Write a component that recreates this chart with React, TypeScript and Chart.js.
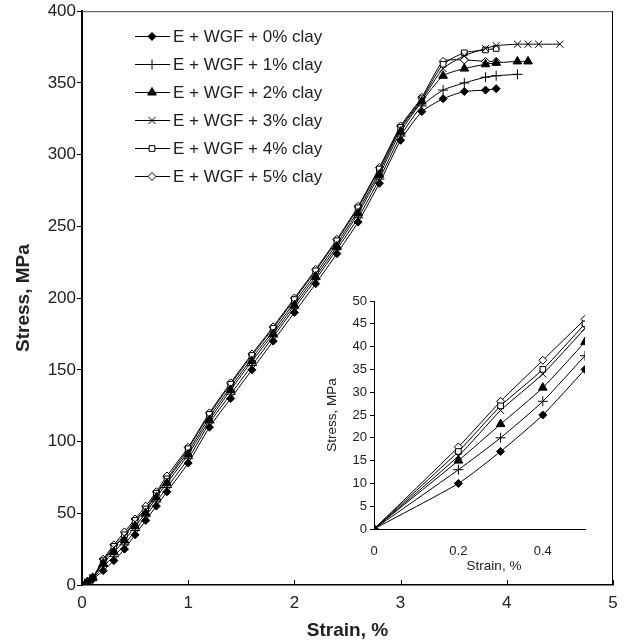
import React, { useEffect, useRef } from "react";
import { Chart, registerables } from "chart.js";
import { drawPoint } from "chart.js/helpers";

Chart.register(...registerables);

// ---------- DATA ----------
const seriesLabels = [
  "E + WGF + 0% clay",
  "E + WGF + 1% clay",
  "E + WGF + 2% clay",
  "E + WGF + 3% clay",
  "E + WGF + 4% clay",
  "E + WGF + 5% clay",
];

const strainMain = [0, 0.05, 0.1, 0.2, 0.3, 0.4, 0.5, 0.6, 0.7, 0.8, 1.0, 1.2, 1.4, 1.6, 1.8, 2.0, 2.2, 2.4, 2.6, 2.8, 3.0, 3.2, 3.4, 3.6, 3.8, 3.9];
const strain0 = strainMain;
const strain1 = [...strainMain, 4.1];
const strain2 = [...strainMain, 4.1, 4.2];
const strain3 = [...strainMain, 4.1, 4.2, 4.3, 4.5];
const strain4 = strainMain;
const strain5 = strainMain;

const stress0 = [0, 2, 4, 10, 17, 25, 35, 45, 55, 65, 85, 110, 130, 150, 170, 190, 210, 231, 253, 280, 310, 330, 339, 344, 345, 346];
const stress1 = [0, 2, 4, 13, 20, 28, 38, 48, 58, 68, 88, 113, 133, 153, 173, 193, 213, 234, 256, 283, 313, 334, 345, 350, 354, 355, 356];
const stress2 = [0, 2, 5, 15, 23, 31, 41, 50, 61, 71, 91, 115, 136, 156, 175, 195, 215, 236, 259, 286, 316, 337, 355, 360, 363, 364, 365, 365];
const stress3 = [0, 2, 5, 16, 26, 34, 44, 52, 63, 73, 93, 117, 138, 158, 177, 197, 217, 238, 261, 288, 318, 338, 360, 369, 374, 376, 377, 377, 377, 377];
const stress4 = [0, 2, 5, 17, 27, 35, 45, 53, 64, 74, 95, 119, 140, 160, 179, 199, 219, 240, 263, 290, 319, 339, 363, 371, 373, 374];
const stress5 = [0, 2, 5, 18, 28, 37, 46, 55, 65, 76, 96, 120, 141, 161, 180, 200, 220, 241, 264, 291, 320, 340, 365, 366, 365, 365];

const strainInset = [0, 0.2, 0.3, 0.4, 0.5];
const inset0 = [0, 10, 17, 25, 35];
const inset1 = [0, 13, 20, 28, 38];
const inset2 = [0, 15, 23, 31, 41];
const inset3 = [0, 16, 26, 34, 44];
const inset4 = [0, 17, 27, 35, 45];
const inset5 = [0, 18, 28, 37, 46];

const mainXTicks = [0, 1, 2, 3, 4, 5];
const mainYTicks = [0, 50, 100, 150, 200, 250, 300, 350, 400];
const insetXTicks = [0, 0.2, 0.4];
const insetYTicks = [0, 5, 10, 15, 20, 25, 30, 35, 40, 45, 50];

const mainXTitle = "Strain, %";
const mainYTitle = "Stress, MPa";
const insetXTitle = "Strain, %";
const insetYTitle = "Stress, MPa";

// ---------- STYLES ----------
const FONT = "'Liberation Sans', Arial, sans-serif";
const TEXT = "#222";
const pointStyles = [
  { pointStyle: "rectRot", radius: 4, fill: "#000" },
  { pointStyle: "cross", radius: 5, fill: "#000" },
  { pointStyle: "triangle", radius: 5, fill: "#000" },
  { pointStyle: "crossRot", radius: 5, fill: "#000" },
  { pointStyle: "rect", radius: 4, fill: "#fff" },
  { pointStyle: "rectRot", radius: 4, fill: "#fff" },
];

const zip = (xs: number[], ys: number[]) => xs.map((x, i) => ({ x, y: ys[i] }));

function makeDatasets(pairs: [number[], number[]][]) {
  return pairs.map(([xs, ys], i) => ({
    label: seriesLabels[i],
    data: zip(xs, ys),
    borderColor: "#000",
    borderWidth: 1,
    backgroundColor: pointStyles[i].fill,
    pointStyle: pointStyles[i].pointStyle as any,
    pointRadius: pointStyles[i].radius,
    pointBorderColor: "#000",
    pointBackgroundColor: pointStyles[i].fill,
    pointBorderWidth: 1,
    tension: 0.2,
    fill: false,
  }));
}

const mainPlugin = {
  id: "mainDecor",
  afterDraw(chart: any) {
    const { ctx, chartArea } = chart;
    const xs = chart.scales.x;
    ctx.save();
    // box top/right
    ctx.strokeStyle = "#444";
    ctx.lineWidth = 1;
    ctx.beginPath();
    ctx.moveTo(chartArea.left, chartArea.top + 0.5);
    ctx.lineTo(chartArea.right - 0.5, chartArea.top + 0.5);
    ctx.stroke();
    ctx.strokeStyle = "#000";
    ctx.beginPath();
    ctx.moveTo(chartArea.right - 0.5, chartArea.top);
    ctx.lineTo(chartArea.right - 0.5, chartArea.bottom);
    ctx.stroke();
    // inward x ticks
    mainXTicks.forEach((v) => {
      const px = Math.round(xs.getPixelForValue(v)) + 0.5;
      ctx.beginPath();
      ctx.moveTo(px, chartArea.bottom);
      ctx.lineTo(px, chartArea.bottom - 5);
      ctx.stroke();
    });
    // legend
    chart.data.datasets.forEach((ds: any, i: number) => {
      const y = 36 + i * 28;
      ctx.strokeStyle = "#000";
      ctx.lineWidth = 1;
      ctx.beginPath();
      ctx.moveTo(135, y + 0.5);
      ctx.lineTo(170, y + 0.5);
      ctx.stroke();
      ctx.fillStyle = pointStyles[i].fill;
      ctx.strokeStyle = "#000";
      drawPoint(ctx, { pointStyle: pointStyles[i].pointStyle, radius: pointStyles[i].radius, rotation: 0, borderWidth: 1 } as any, 152, y + 0.5);
      ctx.fillStyle = TEXT;
      ctx.font = `17px ${FONT}`;
      ctx.textBaseline = "middle";
      ctx.textAlign = "left";
      ctx.fillText(ds.label, 173, y + 1);
    });
    ctx.restore();
  },
};

const insetPlugin = {
  id: "insetDecor",
  afterDraw(chart: any) {
    const { ctx } = chart;
    ctx.save();
    ctx.fillStyle = TEXT;
    ctx.font = `13.5px ${FONT}`;
    ctx.textAlign = "center";
    ctx.textBaseline = "middle";
    ctx.fillText(insetXTitle, 194, 281);
    ctx.restore();
  },
};

export default function App() {
  const mainRef = useRef<HTMLCanvasElement>(null);
  const insetRef = useRef<HTMLCanvasElement>(null);

  useEffect(() => {
    const main = new Chart(mainRef.current!, {
      type: "line",
      data: {
        datasets: makeDatasets([
          [strain0, stress0],
          [strain1, stress1],
          [strain2, stress2],
          [strain3, stress3],
          [strain4, stress4],
          [strain5, stress5],
        ]) as any,
      },
      options: {
        animation: false,
        responsive: false,
        layout: { padding: { top: 10, right: 14, left: 0, bottom: 0 } },
        plugins: { legend: { display: false }, tooltip: { enabled: false } },
        scales: {
          x: {
            type: "linear",
            min: 0,
            max: 5,
            afterBuildTicks: (s: any) => { s.ticks = mainXTicks.map((v) => ({ value: v })); },
            afterFit: (s: any) => { s.height = 57; },
            grid: { display: false, drawTicks: false },
            border: { color: "#000", width: 1.5 },
            ticks: { color: TEXT, font: { family: FONT, size: 17 }, padding: 8 },
            title: { display: true, text: mainXTitle, color: TEXT, font: { family: FONT, size: 19, weight: "bold" }, padding: { top: 0, bottom: 0 } },
          },
          y: {
            type: "linear",
            min: 0,
            max: 400,
            afterBuildTicks: (s: any) => { s.ticks = mainYTicks.map((v) => ({ value: v })); },
            afterFit: (s: any) => { s.width = 82; },
            grid: { drawOnChartArea: false, drawTicks: true, tickLength: 5, color: "#000" },
            border: { color: "#000", width: 2 },
            ticks: { color: TEXT, font: { family: FONT, size: 17 }, padding: 1 },
            title: { display: true, text: mainYTitle, color: TEXT, font: { family: FONT, size: 19, weight: "bold" }, padding: { top: 12, bottom: 0 } },
          },
        },
      },
      plugins: [mainPlugin],
    });

    const inset = new Chart(insetRef.current!, {
      type: "line",
      data: {
        datasets: makeDatasets([
          [strainInset, inset0],
          [strainInset, inset1],
          [strainInset, inset2],
          [strainInset, inset3],
          [strainInset, inset4],
          [strainInset, inset5],
        ]) as any,
      },
      options: {
        animation: false,
        responsive: false,
        layout: { padding: { top: 16, right: 15, left: 0, bottom: 0 } },
        plugins: { legend: { display: false }, tooltip: { enabled: false } },
        scales: {
          x: {
            type: "linear",
            min: 0,
            max: 0.5,
            afterBuildTicks: (s: any) => { s.ticks = insetXTicks.map((v) => ({ value: v })); },
            afterFit: (s: any) => { s.height = 46; },
            grid: { display: false, drawTicks: false },
            border: { color: "#000", width: 1 },
            ticks: { color: TEXT, font: { family: FONT, size: 13 }, padding: 15 },
            title: { display: false },
          },
          y: {
            type: "linear",
            min: 0,
            max: 50,
            afterBuildTicks: (s: any) => { s.ticks = insetYTicks.map((v) => ({ value: v })); },
            afterFit: (s: any) => { s.width = 74; },
            grid: { drawOnChartArea: false, drawTicks: true, tickLength: 4, color: "#000" },
            border: { color: "#000", width: 1 },
            ticks: { color: TEXT, font: { family: FONT, size: 13 }, padding: 3 },
            title: { display: true, text: insetYTitle, color: TEXT, font: { family: FONT, size: 13.5 }, padding: { top: 24, bottom: 0 } },
          },
        },
      },
      plugins: [insetPlugin],
    });

    return () => {
      main.destroy();
      inset.destroy();
    };
  }, []);

  return (
    <div style={{ position: "absolute", left: 0, top: 0, width: 627, height: 642, background: "#fff" }}>
      <canvas ref={mainRef} width={627} height={642} style={{ position: "absolute", left: 0, top: 0 }} />
      <canvas ref={insetRef} width={300} height={290} style={{ position: "absolute", left: 300, top: 285 }} />
    </div>
  );
}
